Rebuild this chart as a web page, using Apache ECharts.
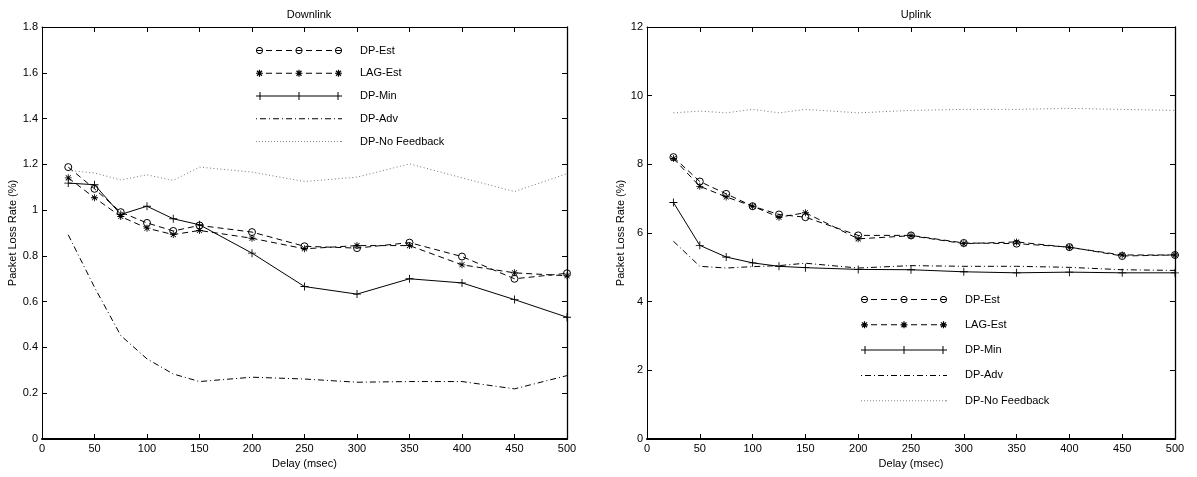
<!DOCTYPE html>
<html>
<head>
<meta charset="utf-8">
<script src="https://cdn.jsdelivr.net/npm/echarts@6/dist/echarts.min.js"></script>
<style>
html,body{margin:0;padding:0;background:#fff;}
#chart{width:1197px;height:477px;}
</style>
</head>
<body>
<div id="chart"></div>
<script>
// ---- data ----
const delays = [25, 50, 75, 100, 125, 150, 200, 250, 300, 350, 400, 450, 500];
const seriesNames = ['DP-Est', 'LAG-Est', 'DP-Min', 'DP-Adv', 'DP-No Feedback'];
const xTicks = [0, 50, 100, 150, 200, 250, 300, 350, 400, 450, 500];

// Downlink
const downDpEst   = [1.188, 1.093, 0.991, 0.944, 0.909, 0.933, 0.904, 0.842, 0.834, 0.858, 0.797, 0.700, 0.724];
const downLagEst  = [1.141, 1.054, 0.972, 0.921, 0.893, 0.911, 0.877, 0.831, 0.845, 0.845, 0.761, 0.726, 0.713];
const downDpMin   = [1.118, 1.111, 0.981, 1.017, 0.962, 0.936, 0.812, 0.666, 0.633, 0.700, 0.682, 0.609, 0.532];
const downDpAdv   = [0.892, 0.663, 0.452, 0.350, 0.284, 0.251, 0.270, 0.262, 0.248, 0.251, 0.251, 0.219, 0.277];
const downNoFb    = [1.173, 1.162, 1.132, 1.154, 1.130, 1.188, 1.166, 1.125, 1.144, 1.202, 1.141, 1.081, 1.159];

// Uplink
const upDpEst     = [8.21, 7.50, 7.14, 6.78, 6.54, 6.46, 5.93, 5.93, 5.71, 5.69, 5.59, 5.33, 5.36];
const upLagEst    = [8.17, 7.36, 7.05, 6.78, 6.46, 6.59, 5.83, 5.92, 5.69, 5.74, 5.58, 5.36, 5.36];
const upDpMin     = [6.89, 5.64, 5.30, 5.13, 5.03, 4.99, 4.94, 4.93, 4.87, 4.84, 4.86, 4.84, 4.84];
const upDpAdv     = [5.76, 5.03, 4.98, 5.02, 5.05, 5.12, 4.98, 5.05, 5.03, 5.03, 5.00, 4.93, 4.91];
const upNoFb      = [9.50, 9.55, 9.50, 9.60, 9.50, 9.60, 9.50, 9.57, 9.60, 9.60, 9.63, 9.60, 9.57];

// ---- styling ----
const FONT = 'Liberation Sans, Arial, Helvetica, sans-serif';
const STAR = 'path://M4.4,0h1.2v10h-1.2z M0,4.4h10v1.2h-10z M1,1.8L1.8,1L9,8.2L8.2,9z M8.2,1L9,1.8L1.8,9L1,8.2z';
const PLUS = 'path://M4.45,0h1.1v10h-1.1z M0,4.45h10v1.1h-10z';

// legend icon builders (MATLAB style: line with markers at both ends and middle)
const LW = 86, CY = 4;
function f(n) { return (Math.round(n * 100) / 100).toString(); }
function bar(cx, cy, ang, half, t) {
  const dx = Math.cos(ang), dy = Math.sin(ang), nx = -dy, ny = dx;
  const p = [
    [cx - dx * half - nx * t / 2, cy - dy * half - ny * t / 2],
    [cx + dx * half - nx * t / 2, cy + dy * half - ny * t / 2],
    [cx + dx * half + nx * t / 2, cy + dy * half + ny * t / 2],
    [cx - dx * half + nx * t / 2, cy - dy * half + ny * t / 2]
  ];
  return 'M' + p.map(q => f(q[0]) + ',' + f(q[1])).join('L') + 'Z';
}
function dashes(pattern, t) {
  let d = '', x = 0, i = 0, lastEnd = 0;
  while (x < LW) {
    const len = pattern[i % pattern.length];
    if (i % 2 === 0) {
      const e = Math.min(x + len, LW);
      d += 'M' + f(x) + ',' + f(CY - t / 2) + 'L' + f(e) + ',' + f(CY - t / 2) + 'L' + f(e) + ',' + f(CY + t / 2) + 'L' + f(x) + ',' + f(CY + t / 2) + 'Z';
      lastEnd = e;
    }
    x += len; i++;
  }
  if (lastEnd < LW) d += 'M' + f(LW - 1) + ',' + f(CY - t / 2) + 'L' + LW + ',' + f(CY - t / 2) + 'L' + LW + ',' + f(CY + t / 2) + 'L' + f(LW - 1) + ',' + f(CY + t / 2) + 'Z';
  return d;
}
function ring(cx, cy, r, t) {
  const n = 24;
  const o = [], inn = [];
  for (let k = 0; k < n; k++) { const a = 2 * Math.PI * k / n; o.push(f(cx + r * Math.cos(a)) + ',' + f(cy + r * Math.sin(a))); }
  for (let k = n; k > 0; k--) { const a = 2 * Math.PI * k / n; inn.push(f(cx + (r - t) * Math.cos(a)) + ',' + f(cy + (r - t) * Math.sin(a))); }
  return 'M' + o.join('L') + 'Z' + 'M' + inn.join('L') + 'Z';
}
function starAt(cx, cy) { return [0, 45, 90, 135].map(a => bar(cx, cy, a * Math.PI / 180, 3.5, 1.2)).join(''); }
function plusAt(cx, cy) { return bar(cx, cy, 0, 4, 1) + bar(cx, cy, Math.PI / 2, 4, 1); }

const legendIcons = [
  'path://' + dashes([6, 4], 1) + [3.5, 43, 82.5].map(x => ring(x, CY, 3.5, 0.9)).join(''),
  'path://' + dashes([6, 4], 1) + [3.5, 43, 82.5].map(x => starAt(x, CY)).join(''),
  'path://' + dashes([LW, 0], 1) + [4, 43, 82].map(x => plusAt(x, CY)).join(''),
  'path://' + dashes([1, 3, 6, 3], 1),
  'path://' + dashes([1, 2], 1)
];
const legendColors = ['#000', '#000', '#000', '#000', '#888'];

function pairs(vals) { return delays.map((d, i) => [d, vals[i]]); }

function makeSeries(gi, vals) {
  const base = { type: 'line', xAxisIndex: gi * 2, yAxisIndex: gi * 2, animation: false,
    emphasis: { disabled: true }, z: 3 };
  return [
    Object.assign({}, base, { name: seriesNames[0], data: pairs(vals[0]), symbol: 'circle', symbolSize: 7,
      itemStyle: { color: 'rgba(255,255,255,0)', borderColor: '#000', borderWidth: 1 },
      lineStyle: { color: '#000', width: 1, type: [6, 4] } }),
    Object.assign({}, base, { name: seriesNames[1], data: pairs(vals[1]), symbol: STAR, symbolSize: 7,
      itemStyle: { color: '#000' },
      lineStyle: { color: '#000', width: 1, type: [6, 4] } }),
    Object.assign({}, base, { name: seriesNames[2], data: pairs(vals[2]), symbol: PLUS, symbolSize: 8,
      itemStyle: { color: '#000' },
      lineStyle: { color: '#000', width: 1, type: 'solid' } }),
    Object.assign({}, base, { name: seriesNames[3], data: pairs(vals[3]), symbol: 'none', showSymbol: false,
      itemStyle: { color: '#000' },
      lineStyle: { color: '#000', width: 1, type: [6, 3, 1, 3] } }),
    Object.assign({}, base, { name: seriesNames[4], data: pairs(vals[4]), symbol: 'none', showSymbol: false,
      itemStyle: { color: '#777' },
      lineStyle: { color: '#777', width: 1, type: [1, 2.5] } })
  ];
}

const grids = [
  { left: 42, top: 27, width: 525, height: 412 },
  { left: 647, top: 27, width: 528, height: 412 }
];

function axesFor(gi, ymax, yint, nameGapY) {
  const xMain = { type: 'value', gridIndex: gi, min: 0, max: 500, interval: 50, position: 'bottom',
    name: 'Delay (msec)', nameLocation: 'middle', nameGap: 18,
    nameTextStyle: { fontFamily: FONT, fontSize: 11, color: '#000' },
    axisLine: { show: true, onZero: false, lineStyle: { color: '#000', width: 2 } },
    axisTick: { show: true, inside: true, length: 5, lineStyle: { color: '#000', width: 1 } },
    axisLabel: { fontFamily: FONT, fontSize: 11, color: '#000', margin: 4,
      showMinLabel: true, showMaxLabel: true },
    splitLine: { show: false } };
  const xTop = { type: 'value', gridIndex: gi, min: 0, max: 500, interval: 50, position: 'top',
    axisLine: { show: true, onZero: false, lineStyle: { color: '#000', width: 1 } },
    axisTick: { show: true, inside: true, length: 5, lineStyle: { color: '#000', width: 1 } },
    axisLabel: { show: false }, splitLine: { show: false } };
  const yMain = { type: 'value', gridIndex: gi, min: 0, max: ymax, interval: yint, position: 'left',
    name: 'Packet Loss Rate (%)', nameLocation: 'middle', nameGap: nameGapY, nameRotate: 90,
    nameTextStyle: { fontFamily: FONT, fontSize: 11, color: '#000' },
    axisLine: { show: true, onZero: false, lineStyle: { color: '#000', width: 1 } },
    axisTick: { show: true, inside: true, length: 5, lineStyle: { color: '#000', width: 1 } },
    axisLabel: { fontFamily: FONT, fontSize: 11, color: '#000', margin: 4,
      formatter: v => String(Math.round(v * 10) / 10) },
    splitLine: { show: false } };
  const yRight = { type: 'value', gridIndex: gi, min: 0, max: ymax, interval: yint, position: 'right',
    axisLine: { show: true, onZero: false, lineStyle: { color: '#000', width: 1.3 } },
    axisTick: { show: true, inside: true, length: 5, lineStyle: { color: '#000', width: 1 } },
    axisLabel: { show: false }, splitLine: { show: false } };
  return { x: [xMain, xTop], y: [yMain, yRight] };
}

const a0 = axesFor(0, 1.8, 0.2, 23.5);
const a1 = axesFor(1, 12, 2, 16.5);

function legendFor(left, top, gap) {
  return { show: true, orient: 'vertical', left: left, top: top, itemWidth: LW, itemHeight: 14,
    itemGap: gap, selectedMode: false, symbolKeepAspect: true,
    data: seriesNames.map((n, i) => ({ name: n, icon: legendIcons[i],
      itemStyle: { color: legendColors[i], borderWidth: 0, borderColor: 'rgba(0,0,0,0)' } })),
    textStyle: { fontFamily: FONT, fontSize: 11, color: '#000', padding: [0, 0, 0, 13] } };
}

const option = {
  backgroundColor: '#fff',
  animation: false,
  title: [
    { text: 'Downlink', left: 304, top: 4, textAlign: 'center',
      textStyle: { fontFamily: FONT, fontSize: 11, fontWeight: 'normal', color: '#000' } },
    { text: 'Uplink', left: 911, top: 4, textAlign: 'center',
      textStyle: { fontFamily: FONT, fontSize: 11, fontWeight: 'normal', color: '#000' } }
  ],
  legend: [legendFor(251, 40, 11.75), legendFor(856, 289, 14.3)],
  grid: grids,
  xAxis: [a0.x[0], a0.x[1], a1.x[0], a1.x[1]],
  yAxis: [a0.y[0], a0.y[1], a1.y[0], a1.y[1]],
  series: [].concat(
    makeSeries(0, [downDpEst, downLagEst, downDpMin, downDpAdv, downNoFb]),
    makeSeries(1, [upDpEst, upLagEst, upDpMin, upDpAdv, upNoFb])
  )
};

const chart = echarts.init(document.getElementById('chart'), null, { renderer: 'canvas' });
chart.setOption(option);
</script>
</body>
</html>
